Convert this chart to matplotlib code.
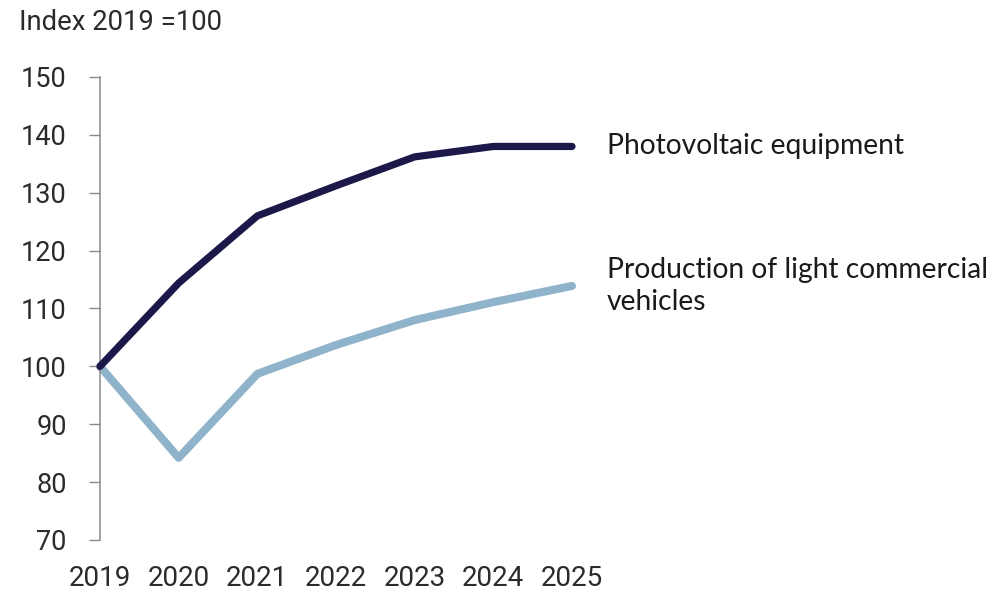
import matplotlib
matplotlib.use("Agg")
import matplotlib.pyplot as plt

# Index values, 2019 = 100
years = [2019, 2020, 2021, 2022, 2023, 2024, 2025]
photovoltaic = [100, 114.4, 126.0, 131.2, 136.2, 138.0, 138.0]
light_commercial = [100, 84.2, 98.7, 103.7, 108.0, 111.1, 113.9]
series_labels = ["Photovoltaic equipment", "Production of light commercial\nvehicles"]
y_ticks = [70, 80, 90, 100, 110, 120, 130, 140, 150]
y_title = "Index 2019 =100"

navy = "#1c1849"
light_blue = "#8fb3ca"
text_col = "#2b2b2b"

fig = plt.figure(figsize=(10.07, 5.91), dpi=100)
ax = fig.add_axes([100 / 1007, 1 - 540 / 591, (572 - 100) / 1007, (540 - 77) / 591])

ax.plot(years, light_commercial, color=light_blue, lw=5.8, solid_capstyle="round",
        solid_joinstyle="round", clip_on=False, zorder=2)
ax.plot(years, photovoltaic, color=navy, lw=5.2, solid_capstyle="round",
        solid_joinstyle="round", clip_on=False, zorder=3)

ax.set_xlim(2019, 2025)
ax.set_ylim(70, 150)
ax.set_yticks(y_ticks)
ax.set_xticks(years)
ax.set_xticklabels([str(y) for y in years])

for side in ("top", "right", "bottom"):
    ax.spines[side].set_visible(False)
ax.spines["left"].set_color("#8a8a8a")
ax.spines["left"].set_linewidth(1.1)

ax.tick_params(axis="y", length=8, width=1.0, color="#8a8a8a", pad=16,
               labelsize=19.5, labelcolor=text_col)
ax.tick_params(axis="x", length=0, pad=18, labelsize=20, labelcolor=text_col)
for lab in ax.get_xticklabels() + ax.get_yticklabels():
    lab.set_fontfamily("Roboto")

fig.text(19 / 1007, 1 - 23 / 591, y_title, fontsize=19.8, color=text_col,
         family="Roboto", va="center", ha="left")

for vals, label in zip([photovoltaic, light_commercial], series_labels):
    ax.annotate(label, xy=(years[-1], vals[-1]), xytext=(25, 0),
                textcoords="offset points", va="center", ha="left",
                fontsize=20.3, color="#1a1a1a", family="Lato",
                linespacing=1.25, annotation_clip=False)

fig.savefig("out.png", dpi=100, facecolor="white")
